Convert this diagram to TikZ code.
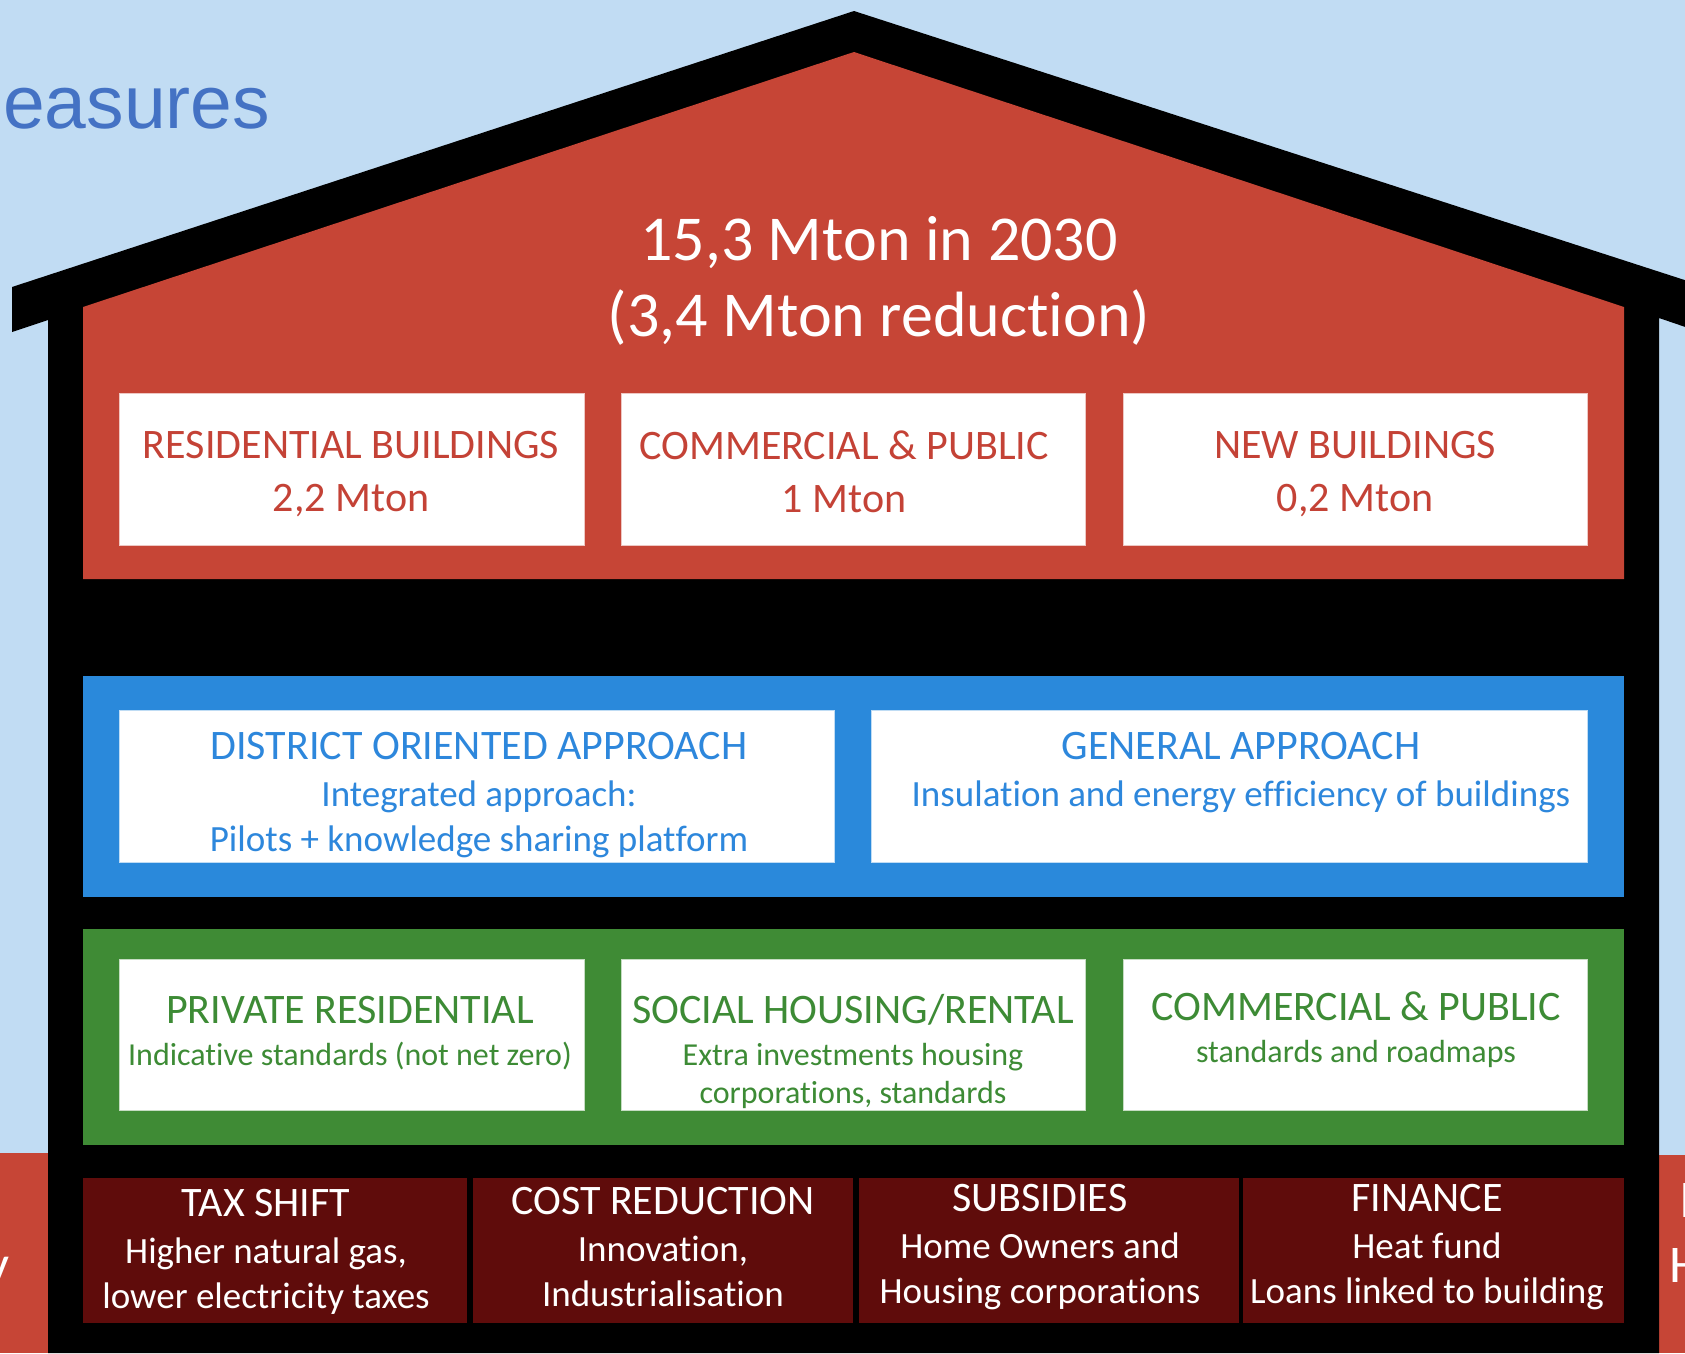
\documentclass[tikz,border=0pt]{standalone}
\usepackage{fontspec}
\setmainfont[Ligatures={NoCommon,NoContextual,NoRequired}]{Carlito}
\newfontfamily\arialfont{Liberation Sans}
\usepackage{tikz}
\usepackage{xcolor}
\definecolor{ceu}{HTML}{C1DCF3}
\definecolor{telha}{HTML}{C64536}
\definecolor{textovermelho}{HTML}{C44236}
\definecolor{faixaazul}{HTML}{2A89DB}
\definecolor{textoazul}{HTML}{2D87DC}
\definecolor{faixaverde}{HTML}{3F8B35}
\definecolor{textoverde}{HTML}{3D8B35}
\definecolor{vinho}{HTML}{5F0C0B}
\definecolor{azultitulo}{HTML}{4472C4}

\begin{document}
\begin{tikzpicture}[x=1pt, y=-1pt,
    rotulo/.style={align=center, inner sep=0pt, anchor=north},
    caixa/.style={fill=white, draw=#1, line width=0.8pt},
    lado/.style={inner sep=0pt, text=white, font=\fontsize{53}{65}\selectfont}]
    % Fundo
    \useasboundingbox (0,0) rectangle (1685,1353);
    \clip (0,0) rectangle (1685,1353);
    \fill[ceu] (0,0) rectangle (1685,1353);
    \fill[telha] (0,1153) rectangle (48,1353);
    \fill[telha] (1659,1155) rectangle (1685,1353);
    \node[anchor=base west, inner sep=0pt, text=azultitulo, font=\arialfont\fontsize{75}{80}\selectfont] (titulo) at (3,128) {easures};
    \node[lado, anchor=base east] (ly) at (10,1282) {y};
    \node[lado, anchor=base west] (rh) at (1669,1282) {H};
    \node[lado, anchor=base west] (ri) at (1679,1217) {I};
    % Casa
    \fill[black] (12,287) -- (854,11) -- (1700,285) -- (1700,332) -- (1659,318) -- (1659,1353) -- (48,1353) -- (48,320) -- (12,332) -- cycle;
    \fill[telha] (83,307) -- (854,52) -- (1624,307) -- (1624,579) -- (83,579) -- cycle;
    \fill[faixaazul] (83,676) rectangle (1624,897);
    \fill[faixaverde] (83,929) rectangle (1624,1145);
    % Caixas
    \filldraw[caixa=telha!30] (119,393) rectangle (584,545);
    \filldraw[caixa=telha!30] (621,393) rectangle (1085,545);
    \filldraw[caixa=telha!30] (1123,393) rectangle (1587,545);
    \filldraw[caixa=faixaazul!30] (119,710) rectangle (834,862);
    \filldraw[caixa=faixaazul!30] (871,710) rectangle (1587,862);
    \filldraw[caixa=faixaverde!30] (119,959) rectangle (584,1110);
    \filldraw[caixa=faixaverde!30] (621,959) rectangle (1085,1110);
    \filldraw[caixa=faixaverde!30] (1123,959) rectangle (1587,1110);
    \fill[vinho] (83,1178) rectangle (467,1323);
    \fill[vinho] (473,1178) rectangle (853,1323);
    \fill[vinho] (859,1178) rectangle (1239,1323);
    \fill[vinho] (1243,1178) rectangle (1624,1323);
    % Telhado
    \node[rotulo, text=white, font=\fontsize{64}{76}\selectfont] (meta) at (879,216) {15,3 Mton in 2030\\(3,4 Mton reduction)};
    \node[rotulo, text=textovermelho, font=\fontsize{42}{53}\selectfont] (res) at (351,431) {RESIDENTIAL BUILDINGS\\2,2 Mton};
    \node[rotulo, text=textovermelho, font=\fontsize{42}{53}\selectfont] (com) at (844,431) {COMMERCIAL \& PUBLIC\\1 Mton};
    \node[rotulo, text=textovermelho, font=\fontsize{42}{53}\selectfont] (nov) at (1355,431) {NEW BUILDINGS\\0,2 Mton};
    % Faixa azul
    \node[rotulo, text=textoazul, font=\fontsize{37}{45}\selectfont] (bairro) at (479,732) {{\fontsize{42}{45}\selectfont DISTRICT ORIENTED APPROACH}\\[2pt]Integrated approach:\\Pilots + knowledge sharing platform};
    \node[rotulo, text=textoazul, font=\fontsize{37}{45}\selectfont] (geral) at (1241,732) {{\fontsize{42}{45}\selectfont GENERAL APPROACH}\\[2pt]Insulation and energy efficiency of buildings};
    % Faixa verde
    \node[rotulo, text=textoverde, font=\fontsize{32}{38}\selectfont] (priv) at (350,996) {{\fontsize{42}{38}\selectfont PRIVATE RESIDENTIAL}\\[4pt]Indicative standards (not net zero)};
    \node[rotulo, text=textoverde, font=\fontsize{32}{38}\selectfont] (soc) at (853,994) {{\fontsize{42}{38}\selectfont SOCIAL HOUSING/RENTAL}\\[4pt]Extra investments housing\\corporations, standards};
    \node[rotulo, text=textoverde, font=\fontsize{32}{38}\selectfont] (comp) at (1356,992) {{\fontsize{42}{38}\selectfont COMMERCIAL \& PUBLIC}\\[4pt]standards and roadmaps};
    % Base
    \node[rotulo, text=white, font=\fontsize{37}{45}\selectfont] (imp) at (266,1189) {{\fontsize{42}{45}\selectfont TAX SHIFT}\\[2pt]Higher natural gas,\\lower electricity taxes};
    \node[rotulo, text=white, font=\fontsize{37}{45}\selectfont] (custo) at (663,1187) {{\fontsize{42}{45}\selectfont COST REDUCTION}\\[2pt]Innovation,\\Industrialisation};
    \node[rotulo, text=white, font=\fontsize{37}{45}\selectfont] (sub) at (1040,1184) {{\fontsize{42}{45}\selectfont SUBSIDIES}\\[2pt]Home Owners and\\Housing corporations};
    \node[rotulo, text=white, font=\fontsize{37}{45}\selectfont] (fin) at (1427,1184) {{\fontsize{42}{45}\selectfont FINANCE}\\[2pt]Heat fund\\Loans linked to building};
\end{tikzpicture}
\end{document}
